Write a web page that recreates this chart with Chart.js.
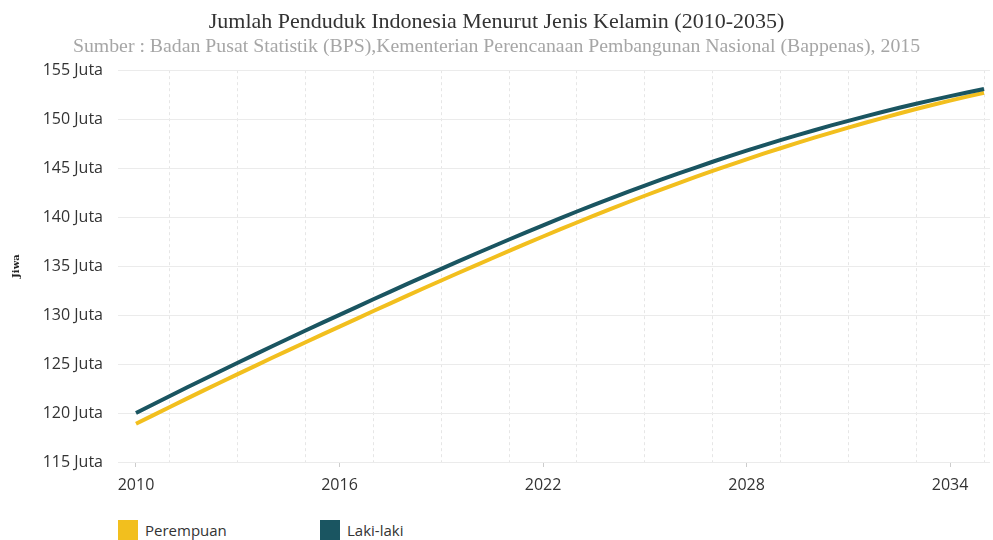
<!DOCTYPE html>
<html>
<head>
<meta charset="utf-8">
<title>Jumlah Penduduk Indonesia Menurut Jenis Kelamin</title>
<script src="https://cdn.jsdelivr.net/npm/chart.js@4.4.1/dist/chart.umd.min.js"></script>
<style>
  html, body { margin: 0; padding: 0; background: #fff; }
  #wrap { position: relative; width: 993px; height: 540px; overflow: hidden; }
  #box { position: absolute; left: 0; top: 0; width: 993px; height: 510px; }
  #legend { position: absolute; left: 118px; top: 520px; font-family: "Open Sans", sans-serif; font-size: 15px; color: #333; }
  #legend span.item { position: absolute; top: 0; white-space: nowrap; }
  #legend span.sw { display: inline-block; width: 20px; height: 20px; vertical-align: top; margin-right: 7px; }
</style>
</head>
<body>
<div id="wrap">
  <div id="box"><canvas id="graphic"></canvas></div>
  <div id="legend"></div>
</div>
<script>
// tahun proyeksi
var years = [2010, 2011, 2012, 2013, 2014, 2015, 2016, 2017, 2018, 2019, 2020, 2021, 2022,
             2023, 2024, 2025, 2026, 2027, 2028, 2029, 2030, 2031, 2032, 2033, 2034, 2035];
// dalam juta jiwa
var perempuan = [118.90, 120.62, 122.31, 123.97, 125.61, 127.23, 128.82, 130.41, 131.98, 133.53,
                 135.05, 136.55, 138.02, 139.45, 140.84, 142.18, 143.47, 144.71, 145.90, 147.03,
                 148.11, 149.14, 150.11, 151.03, 151.89, 152.69];
var lakiLaki = [120.00, 121.74, 123.45, 125.13, 126.79, 128.42, 130.02, 131.61, 133.18, 134.72,
                136.23, 137.71, 139.16, 140.57, 141.92, 143.22, 144.46, 145.65, 146.78, 147.85,
                148.87, 149.83, 150.73, 151.57, 152.35, 153.07];
var yearLabels = [2010, 2016, 2022, 2028, 2034];
var seriesNames = ["Perempuan", "Laki-laki"];
var seriesColors = ["#f2bf1e", "#1a5561"];

(() => {
    var ctx = document.getElementById("graphic").getContext("2d");

    var data = {
        datasets: [{
            label: seriesNames[0],
            data: years.map((y, i) => ({ x: y, y: perempuan[i] })),
            borderColor: seriesColors[0],
            backgroundColor: seriesColors[0],
            borderWidth: 4,
            pointRadius: 0,
            tension: 0.3,
            order: 1
        }, {
            label: seriesNames[1],
            data: years.map((y, i) => ({ x: y, y: lakiLaki[i] })),
            borderColor: seriesColors[1],
            backgroundColor: seriesColors[1],
            borderWidth: 4,
            pointRadius: 0,
            tension: 0.3,
            order: 0
        }]
    };

    var options = {
        responsive: true,
        maintainAspectRatio: false,
        animation: false,
        layout: { padding: { left: 0, right: 0, top: 0, bottom: 0 } },
        plugins: {
            legend: { display: false },
            tooltip: { enabled: false },
            title: {
                display: true,
                text: "Jumlah Penduduk Indonesia Menurut Jenis Kelamin (2010-2035)",
                color: "#333",
                font: { family: "Liberation Serif", size: 22, weight: "normal" },
                padding: { top: 9, bottom: 0 }
            },
            subtitle: {
                display: true,
                text: "Sumber : Badan Pusat Statistik (BPS),Kementerian Perencanaan Pembangunan Nasional (Bappenas), 2015",
                color: "#a6a6a6",
                font: { family: "Liberation Serif", size: 19.8, weight: "normal" },
                padding: { top: 0, bottom: 11 }
            }
        },
        scales: {
            x: {
                type: "linear",
                min: 2009.47,
                max: 2035.18,
                afterBuildTicks(axis) {
                    axis.ticks = years.map(v => ({ value: v }));
                },
                afterFit(axis) { axis.height = 48; },
                ticks: {
                    autoSkip: false,
                    maxRotation: 0,
                    padding: 9,
                    color: "#333",
                    font: { family: "Open Sans", size: 16 },
                    callback: v => yearLabels.includes(v) ? String(v) : ""
                },
                grid: {
                    color: c => (c.tick && c.tick.value % 2 === 1) ? "#e6e6e6" : "rgba(0,0,0,0)",
                    tickColor: c => (c.tick && yearLabels.includes(c.tick.value)) ? "#ccc" : "rgba(0,0,0,0)",
                    tickLength: 5
                },
                border: { display: false, dash: [3, 3] }
            },
            y: {
                min: 115,
                max: 155,
                afterFit(axis) { axis.width = 118; },
                ticks: {
                    stepSize: 5,
                    padding: 15,
                    color: "#333",
                    font: { family: "Open Sans", size: 16 },
                    callback: v => v + " Juta"
                },
                grid: { color: "#ebebeb", drawTicks: false },
                border: { display: false },
                title: {
                    display: true,
                    text: "Jiwa",
                    color: "#222",
                    font: { family: "DejaVu Serif", size: 10, weight: "bold" },
                    padding: { top: 10, bottom: 0 }
                }
            }
        }
    };

    var myChart = new Chart(ctx, { type: "line", data: data, options: options });

    // legenda di bawah grafik
    var legend = document.getElementById("legend");
    var offsets = [0, 202];
    myChart.data.datasets.forEach((ds, i) => {
        var item = document.createElement("span");
        item.className = "item";
        item.style.left = offsets[i] + "px";
        item.innerHTML = '<span class="sw" style="background:' + ds.borderColor + '"></span>' + ds.label;
        legend.appendChild(item);
    });
})();
</script>
</body>
</html>
